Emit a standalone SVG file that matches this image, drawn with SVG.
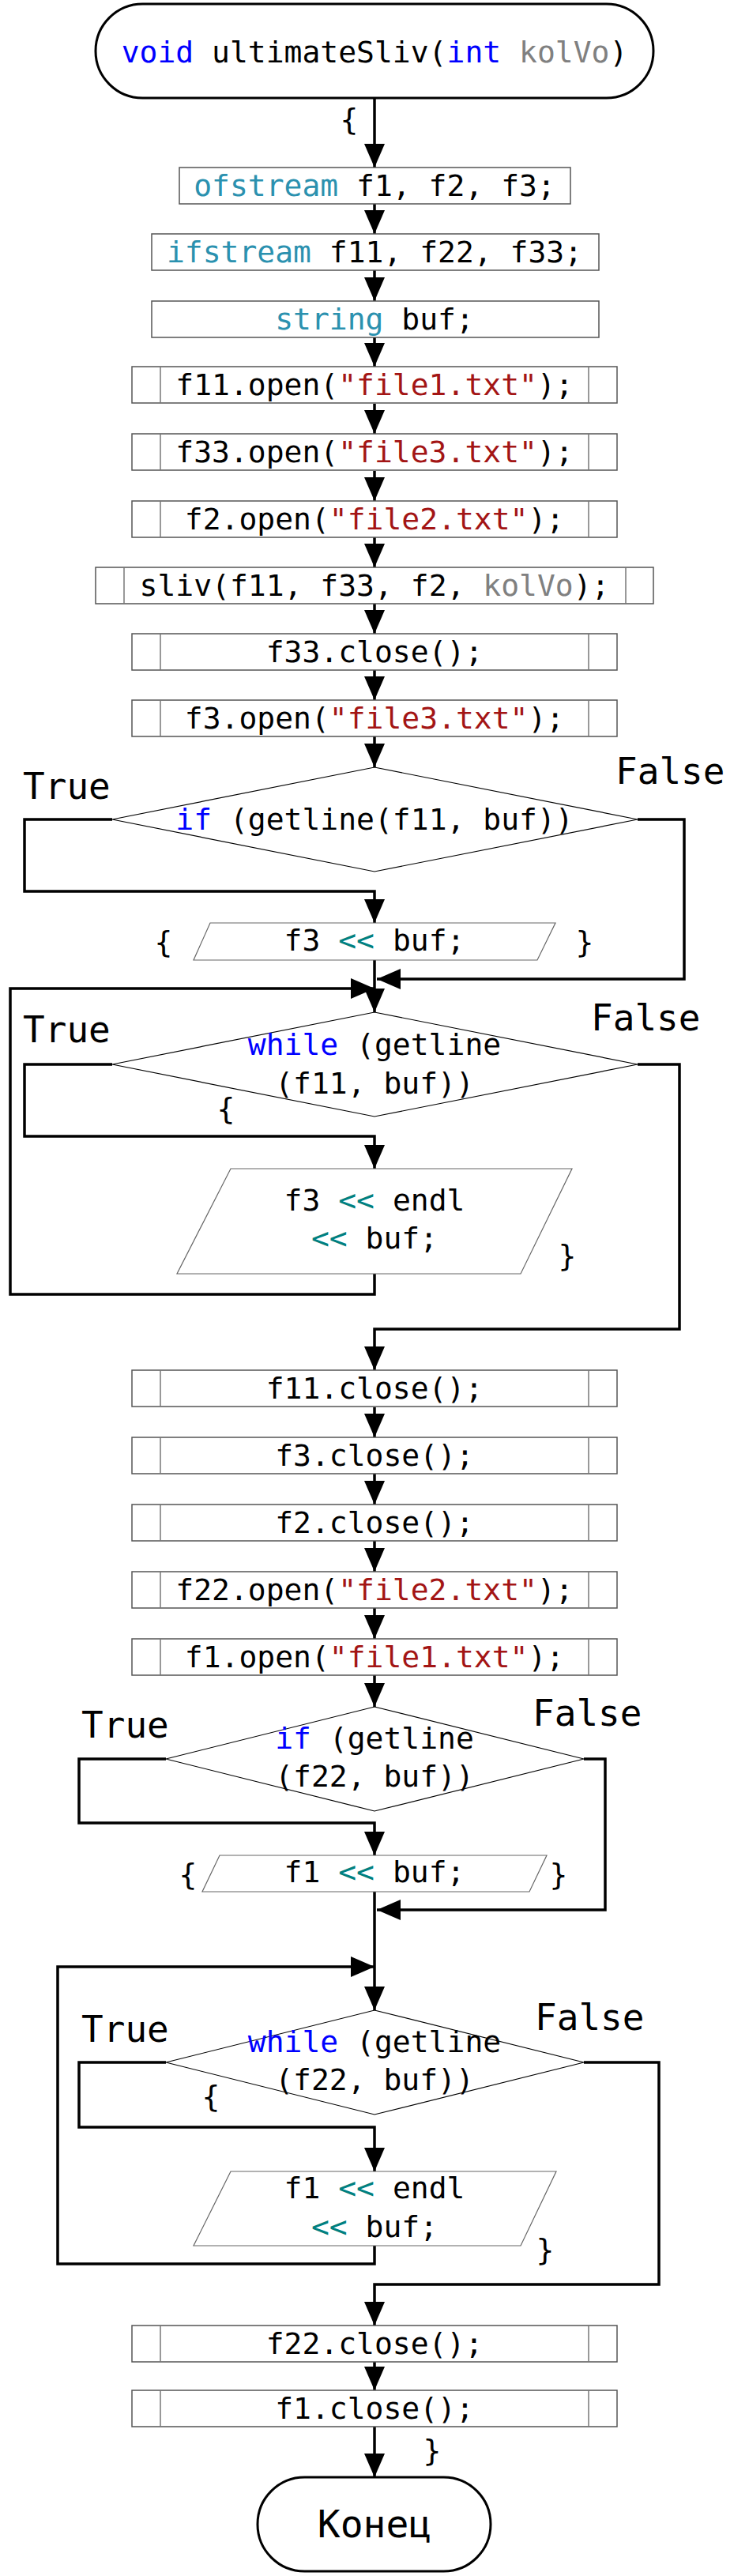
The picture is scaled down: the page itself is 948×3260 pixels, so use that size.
<svg xmlns="http://www.w3.org/2000/svg" width="948" height="3260" viewBox="0 0 948 3260">
<defs>
<marker id="ah" viewBox="0 0 30 26" refX="30" refY="13" markerWidth="30" markerHeight="26" markerUnits="userSpaceOnUse" orient="auto">
<path d="M0,0 L30,13 L0,26 Z" fill="#000"/>
</marker>
<style>
.t{font-family:"DejaVu Sans Mono","Liberation Mono",monospace;font-size:38px;fill:#000;text-anchor:middle}
.lb{font-family:"DejaVu Sans Mono","Liberation Mono",monospace;font-size:46px;fill:#000}
.br{font-family:"DejaVu Sans Mono","Liberation Mono",monospace;font-size:38px;fill:#000;text-anchor:middle}
.kw{fill:#0000ff}
.ty{fill:#2b91af}
.st{fill:#a31515}
.pa{fill:#808080}
.op{fill:#008080}
.term{fill:#fff;stroke:#000;stroke-width:3}
.box{fill:#fff;stroke:#555;stroke-width:1.5}
.inn{stroke:#777;stroke-width:1.5}
.dia{fill:#fff;stroke:#000;stroke-width:1.2}
.par{fill:#fff;stroke:#666;stroke-width:1.2}
.c{fill:none;stroke:#000;stroke-width:3.5;stroke-linejoin:miter}
.ca{fill:none;stroke:#000;stroke-width:3.5;stroke-linejoin:miter;marker-end:url(#ah)}
</style>
</defs>
<rect width="948" height="3260" fill="#fff"/>

<g id="connectors">
<path class="ca" d="M474,124 V212"/>
<path class="ca" d="M474,258 V296"/>
<path class="ca" d="M474,342 V381"/>
<path class="ca" d="M474,427 V464"/>
<path class="ca" d="M474,511 V549"/>
<path class="ca" d="M474,596 V634"/>
<path class="ca" d="M474,680 V718"/>
<path class="ca" d="M474,764 V802"/>
<path class="ca" d="M474,848 V886"/>
<path class="ca" d="M474,932 V971"/>
<path class="ca" d="M142,1037 H31 V1128 H474 V1168"/>
<path class="ca" d="M807,1037 H866 V1239 H477"/>
<path class="ca" d="M474,1215 V1281"/>
<path class="ca" d="M474,1612 V1638 H13 V1251 H474"/>
<path class="ca" d="M142,1347 H31 V1438 H474 V1479"/>
<path class="ca" d="M807,1347 H860 V1682 H474 V1734"/>
<path class="ca" d="M474,1781 V1819"/>
<path class="ca" d="M474,1865 V1904"/>
<path class="ca" d="M474,1950 V1989"/>
<path class="ca" d="M474,2035 V2074"/>
<path class="ca" d="M474,2120 V2160"/>
<path class="ca" d="M210,2226 H100 V2307 H474 V2348"/>
<path class="ca" d="M739,2226 H766 V2417 H477"/>
<path class="ca" d="M474,2394 V2544"/>
<path class="ca" d="M474,2842 V2865 H73 V2489 H474"/>
<path class="ca" d="M210,2610 H100 V2692 H474 V2748"/>
<path class="ca" d="M739,2610 H834 V2891 H474 V2943"/>
<path class="ca" d="M474,2989 V3025"/>
<path class="ca" d="M474,3071 V3135"/>
</g>

<g id="start">
<rect class="term" x="121" y="5" width="706" height="119" rx="59.5"/>
<text class="t" x="474" y="79"><tspan class="kw">void</tspan> ultimateSliv(<tspan class="kw">int</tspan> <tspan class="pa">kolVo</tspan>)</text>
</g>
<text id="brace-open" class="br" x="442" y="164">{</text>

<g id="decl1">
<rect class="box" x="227" y="212" width="495" height="46"/>
<text class="t" x="474" y="248"><tspan class="ty">ofstream</tspan> f1, f2, f3;</text>
</g>
<g id="decl2">
<rect class="box" x="192" y="296" width="566" height="46"/>
<text class="t" x="474" y="332"><tspan class="ty">ifstream</tspan> f11, f22, f33;</text>
</g>
<g id="decl3">
<rect class="box" x="192" y="381" width="566" height="46"/>
<text class="t" x="474" y="417"><tspan class="ty">string</tspan> buf;</text>
</g>
<g id="open11">
<rect class="box" x="167" y="464" width="614" height="46"/>
<line class="inn" x1="203" y1="464" x2="203" y2="510"/><line class="inn" x1="745" y1="464" x2="745" y2="510"/>
<text class="t" x="474" y="500">f11.open(<tspan class="st">"file1.txt"</tspan>);</text>
</g>
<g id="open33">
<rect class="box" x="167" y="549" width="614" height="46"/>
<line class="inn" x1="203" y1="549" x2="203" y2="595"/><line class="inn" x1="745" y1="549" x2="745" y2="595"/>
<text class="t" x="474" y="585">f33.open(<tspan class="st">"file3.txt"</tspan>);</text>
</g>
<g id="open2">
<rect class="box" x="167" y="634" width="614" height="46"/>
<line class="inn" x1="203" y1="634" x2="203" y2="680"/><line class="inn" x1="745" y1="634" x2="745" y2="680"/>
<text class="t" x="474" y="670">f2.open(<tspan class="st">"file2.txt"</tspan>);</text>
</g>
<g id="sliv">
<rect class="box" x="121" y="718" width="706" height="46"/>
<line class="inn" x1="157" y1="718" x2="157" y2="764"/><line class="inn" x1="792" y1="718" x2="792" y2="764"/>
<text class="t" x="474" y="754">sliv(f11, f33, f2, <tspan class="pa">kolVo</tspan>);</text>
</g>
<g id="close33">
<rect class="box" x="167" y="802" width="614" height="46"/>
<line class="inn" x1="203" y1="802" x2="203" y2="848"/><line class="inn" x1="745" y1="802" x2="745" y2="848"/>
<text class="t" x="474" y="838">f33.close();</text>
</g>
<g id="open3">
<rect class="box" x="167" y="886" width="614" height="46"/>
<line class="inn" x1="203" y1="886" x2="203" y2="932"/><line class="inn" x1="745" y1="886" x2="745" y2="932"/>
<text class="t" x="474" y="922">f3.open(<tspan class="st">"file3.txt"</tspan>);</text>
</g>

<g id="if1">
<polygon class="dia" points="474,971 807,1037 474,1103 142,1037"/>
<text class="t" x="474" y="1050"><tspan class="kw">if</tspan> (getline(f11, buf))</text>
<text class="lb" x="29" y="1011">True</text>
<text class="lb" x="779" y="992">False</text>
</g>
<g id="out1">
<polygon class="par" points="266,1168 703,1168 680,1215 245,1215"/>
<text class="t" x="474" y="1203">f3 <tspan class="op">&lt;&lt;</tspan> buf;</text>
<text class="br" x="207" y="1205">{</text>
<text class="br" x="740" y="1205">}</text>
</g>

<g id="while1">
<polygon class="dia" points="474,1281 807,1347 474,1413 142,1347"/>
<text class="t" x="474" y="1335"><tspan class="kw">while</tspan> (getline</text>
<text class="t" x="474" y="1384">(f11, buf))</text>
<text class="lb" x="29" y="1319">True</text>
<text class="lb" x="748" y="1304">False</text>
<text class="br" x="286" y="1416">{</text>
</g>
<g id="out2">
<polygon class="par" points="292,1479 724,1479 659,1612 224,1612"/>
<text class="t" x="474" y="1532">f3 <tspan class="op">&lt;&lt;</tspan> endl</text>
<text class="t" x="474" y="1580"><tspan class="op">&lt;&lt;</tspan> buf;</text>
<text class="br" x="718" y="1602">}</text>
</g>

<g id="close11">
<rect class="box" x="167" y="1734" width="614" height="46"/>
<line class="inn" x1="203" y1="1734" x2="203" y2="1780"/><line class="inn" x1="745" y1="1734" x2="745" y2="1780"/>
<text class="t" x="474" y="1770">f11.close();</text>
</g>
<g id="close3">
<rect class="box" x="167" y="1819" width="614" height="46"/>
<line class="inn" x1="203" y1="1819" x2="203" y2="1865"/><line class="inn" x1="745" y1="1819" x2="745" y2="1865"/>
<text class="t" x="474" y="1855">f3.close();</text>
</g>
<g id="close2">
<rect class="box" x="167" y="1904" width="614" height="46"/>
<line class="inn" x1="203" y1="1904" x2="203" y2="1950"/><line class="inn" x1="745" y1="1904" x2="745" y2="1950"/>
<text class="t" x="474" y="1940">f2.close();</text>
</g>
<g id="open22">
<rect class="box" x="167" y="1989" width="614" height="46"/>
<line class="inn" x1="203" y1="1989" x2="203" y2="2035"/><line class="inn" x1="745" y1="1989" x2="745" y2="2035"/>
<text class="t" x="474" y="2025">f22.open(<tspan class="st">"file2.txt"</tspan>);</text>
</g>
<g id="open1">
<rect class="box" x="167" y="2074" width="614" height="46"/>
<line class="inn" x1="203" y1="2074" x2="203" y2="2120"/><line class="inn" x1="745" y1="2074" x2="745" y2="2120"/>
<text class="t" x="474" y="2110">f1.open(<tspan class="st">"file1.txt"</tspan>);</text>
</g>

<g id="if2">
<polygon class="dia" points="474,2160 739,2226 474,2292 210,2226"/>
<text class="t" x="474" y="2213"><tspan class="kw">if</tspan> (getline</text>
<text class="t" x="474" y="2261">(f22, buf))</text>
<text class="lb" x="103" y="2199">True</text>
<text class="lb" x="674" y="2184">False</text>
</g>
<g id="out3">
<polygon class="par" points="278,2348 692,2348 670,2394 256,2394"/>
<text class="t" x="474" y="2382">f1 <tspan class="op">&lt;&lt;</tspan> buf;</text>
<text class="br" x="238" y="2385">{</text>
<text class="br" x="707" y="2385">}</text>
</g>

<g id="while2">
<polygon class="dia" points="474,2544 739,2610 474,2676 210,2610"/>
<text class="t" x="474" y="2597"><tspan class="kw">while</tspan> (getline</text>
<text class="t" x="474" y="2645">(f22, buf))</text>
<text class="lb" x="103" y="2584">True</text>
<text class="lb" x="677" y="2569">False</text>
<text class="br" x="267" y="2666">{</text>
</g>
<g id="out4">
<polygon class="par" points="292,2748 704,2748 659,2842 245,2842"/>
<text class="t" x="474" y="2782">f1 <tspan class="op">&lt;&lt;</tspan> endl</text>
<text class="t" x="474" y="2831"><tspan class="op">&lt;&lt;</tspan> buf;</text>
<text class="br" x="690" y="2860">}</text>
</g>

<g id="close22">
<rect class="box" x="167" y="2943" width="614" height="46"/>
<line class="inn" x1="203" y1="2943" x2="203" y2="2989"/><line class="inn" x1="745" y1="2943" x2="745" y2="2989"/>
<text class="t" x="474" y="2979">f22.close();</text>
</g>
<g id="close1">
<rect class="box" x="167" y="3025" width="614" height="46"/>
<line class="inn" x1="203" y1="3025" x2="203" y2="3071"/><line class="inn" x1="745" y1="3025" x2="745" y2="3071"/>
<text class="t" x="474" y="3061">f1.close();</text>
</g>
<text id="brace-close" class="br" x="547" y="3114">}</text>

<g id="end">
<rect class="term" x="326" y="3135" width="295" height="119" rx="59.5"/>
<text class="t" x="474" y="3211" style="font-size:48px">Конец</text>
</g>
</svg>
